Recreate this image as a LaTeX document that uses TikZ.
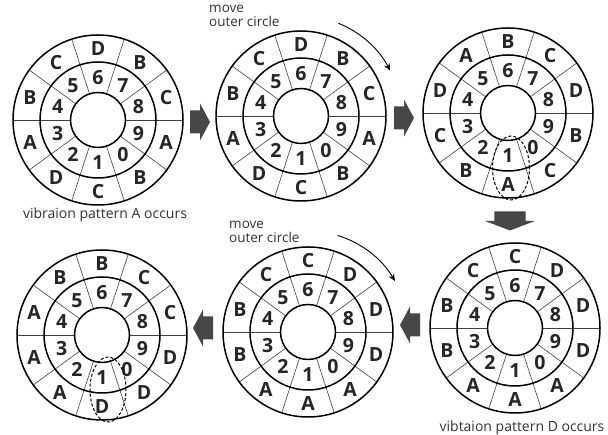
\documentclass[tikz,border=0pt]{standalone}
\usepackage{fontspec}
\setmainfont{Open Sans}
\usetikzlibrary{arrows.meta, calc, positioning}

\begin{document}
\begin{tikzpicture}[x=1pt, y=1pt,
    ring/.style={line width=1.5pt, black},
    spoke/.style={line width=0.6pt, black!75},
    digit/.style={font=\fontsize{19.5}{19.5}\selectfont\bfseries, text=black!85, inner sep=0pt},
    letter/.style={font=\fontsize{19.5}{19.5}\selectfont\bfseries, text=black!85, inner sep=0pt},
    note/.style={font=\fontsize{13.5}{13.5}\selectfont, text=black!80, inner sep=0pt, align=left},
    caption/.style={font=\fontsize{14}{14}\selectfont, text=black!80, inner sep=0pt},
    turn/.style={-{Stealth[length=7pt, width=6pt]}, line width=0.9pt},
    pick/.style={line width=1pt, dash pattern=on 3pt off 2pt},
    pics/fatarrow/.style={code={
      \fill[black!72] (-10,-11.5) -- (0,-11.5) -- (0,-18.5) -- (10,0)
        -- (0,18.5) -- (0,11.5) -- (-10,11.5) -- cycle;}}]

\useasboundingbox (0,0) rectangle (608,435);

% wheel centres
\coordinate (W1) at (98,315);
\coordinate (W2) at (301,319);
\coordinate (W3) at (508,322);
\coordinate (W4) at (515,107);
\coordinate (W5) at (308,103);
\coordinate (W6) at (102,100);

% spokes, rings and the inner digits
\foreach \w in {W1,W2,W3,W4,W5,W6}{
  \foreach \a in {0,36,...,324}
    \draw[spoke] ($(\w)+(\a:27.5)$) -- ($(\w)+(\a:85)$);
  \draw[ring] (\w) circle[radius=85pt] (\w) circle[radius=58pt] (\w) circle[radius=27.5pt];
  \foreach \d [count=\i from 0, evaluate=\i as \ang using 90-36*\i] in {6,7,8,9,0,1,2,3,4,5}
    \node[digit] (\w-n\d) at ($(\w)+(\ang:42.5)$) {\d};
}

% outer letters
\foreach \c [count=\i from 0, evaluate=\i as \ang using 90-36*\i] in {D,B,C,A,B,C,D,A,B,C}
  \node[letter] (W1-l\i) at ($(W1)+(\ang:71.5)$) {\c};
\foreach \c [count=\i from 0, evaluate=\i as \ang using 90-36*\i] in {D,B,C,A,B,C,D,A,B,C}
  \node[letter] (W2-l\i) at ($(W2)+(\ang:71.5)$) {\c};
\foreach \c [count=\i from 0, evaluate=\i as \ang using 90-36*\i] in {B,C,D,B,C,A,B,C,D,A}
  \node[letter] (W3-l\i) at ($(W3)+(\ang:71.5)$) {\c};
\foreach \c [count=\i from 0, evaluate=\i as \ang using 90-36*\i] in {C,D,D,D,A,A,A,B,B,C}
  \node[letter] (W4-l\i) at ($(W4)+(\ang:71.5)$) {\c};
\foreach \c [count=\i from 0, evaluate=\i as \ang using 90-36*\i] in {C,D,D,D,A,A,A,B,B,C}
  \node[letter] (W5-l\i) at ($(W5)+(\ang:71.5)$) {\c};
\foreach \c [count=\i from 0, evaluate=\i as \ang using 90-36*\i] in {B,C,C,D,D,D,A,A,A,B}
  \node[letter] (W6-l\i) at ($(W6)+(\ang:71.5)$) {\c};

% matched pairs
\draw[pick] ($(W3)+(3,-55)$) ellipse[x radius=18.5pt, y radius=32pt];
\draw[pick] ($(W6)+(6,-54.5)$) ellipse[x radius=18pt, y radius=32.5pt];

% turning the outer ring
\node[note, anchor=north west] (mv1) at (209,430) {move\\outer circle};
\draw[turn] ($(W2)+(68:100)$) arc[start angle=68, end angle=27, radius=100pt];
\node[note, anchor=north west] (mv2) at (229,214) {move\\outer circle};
\draw[turn] ($(W5)+(73:101)$) arc[start angle=73, end angle=30, radius=100pt];

% captions
\node[caption] (capA) at (105,220) {vibraion pattern A occurs};
\node[caption] (capD) at (522,7) {vibtaion pattern D occurs};

% step arrows
\pic at (200,313) {fatarrow};
\pic at (404,317) {fatarrow};
\pic[rotate=-90, xscale=0.95, yscale=1.35] at (510,214) {fatarrow};
\pic[rotate=180] at (410,110) {fatarrow};
\pic[rotate=180] at (203,107) {fatarrow};
\end{tikzpicture}
\end{document}
